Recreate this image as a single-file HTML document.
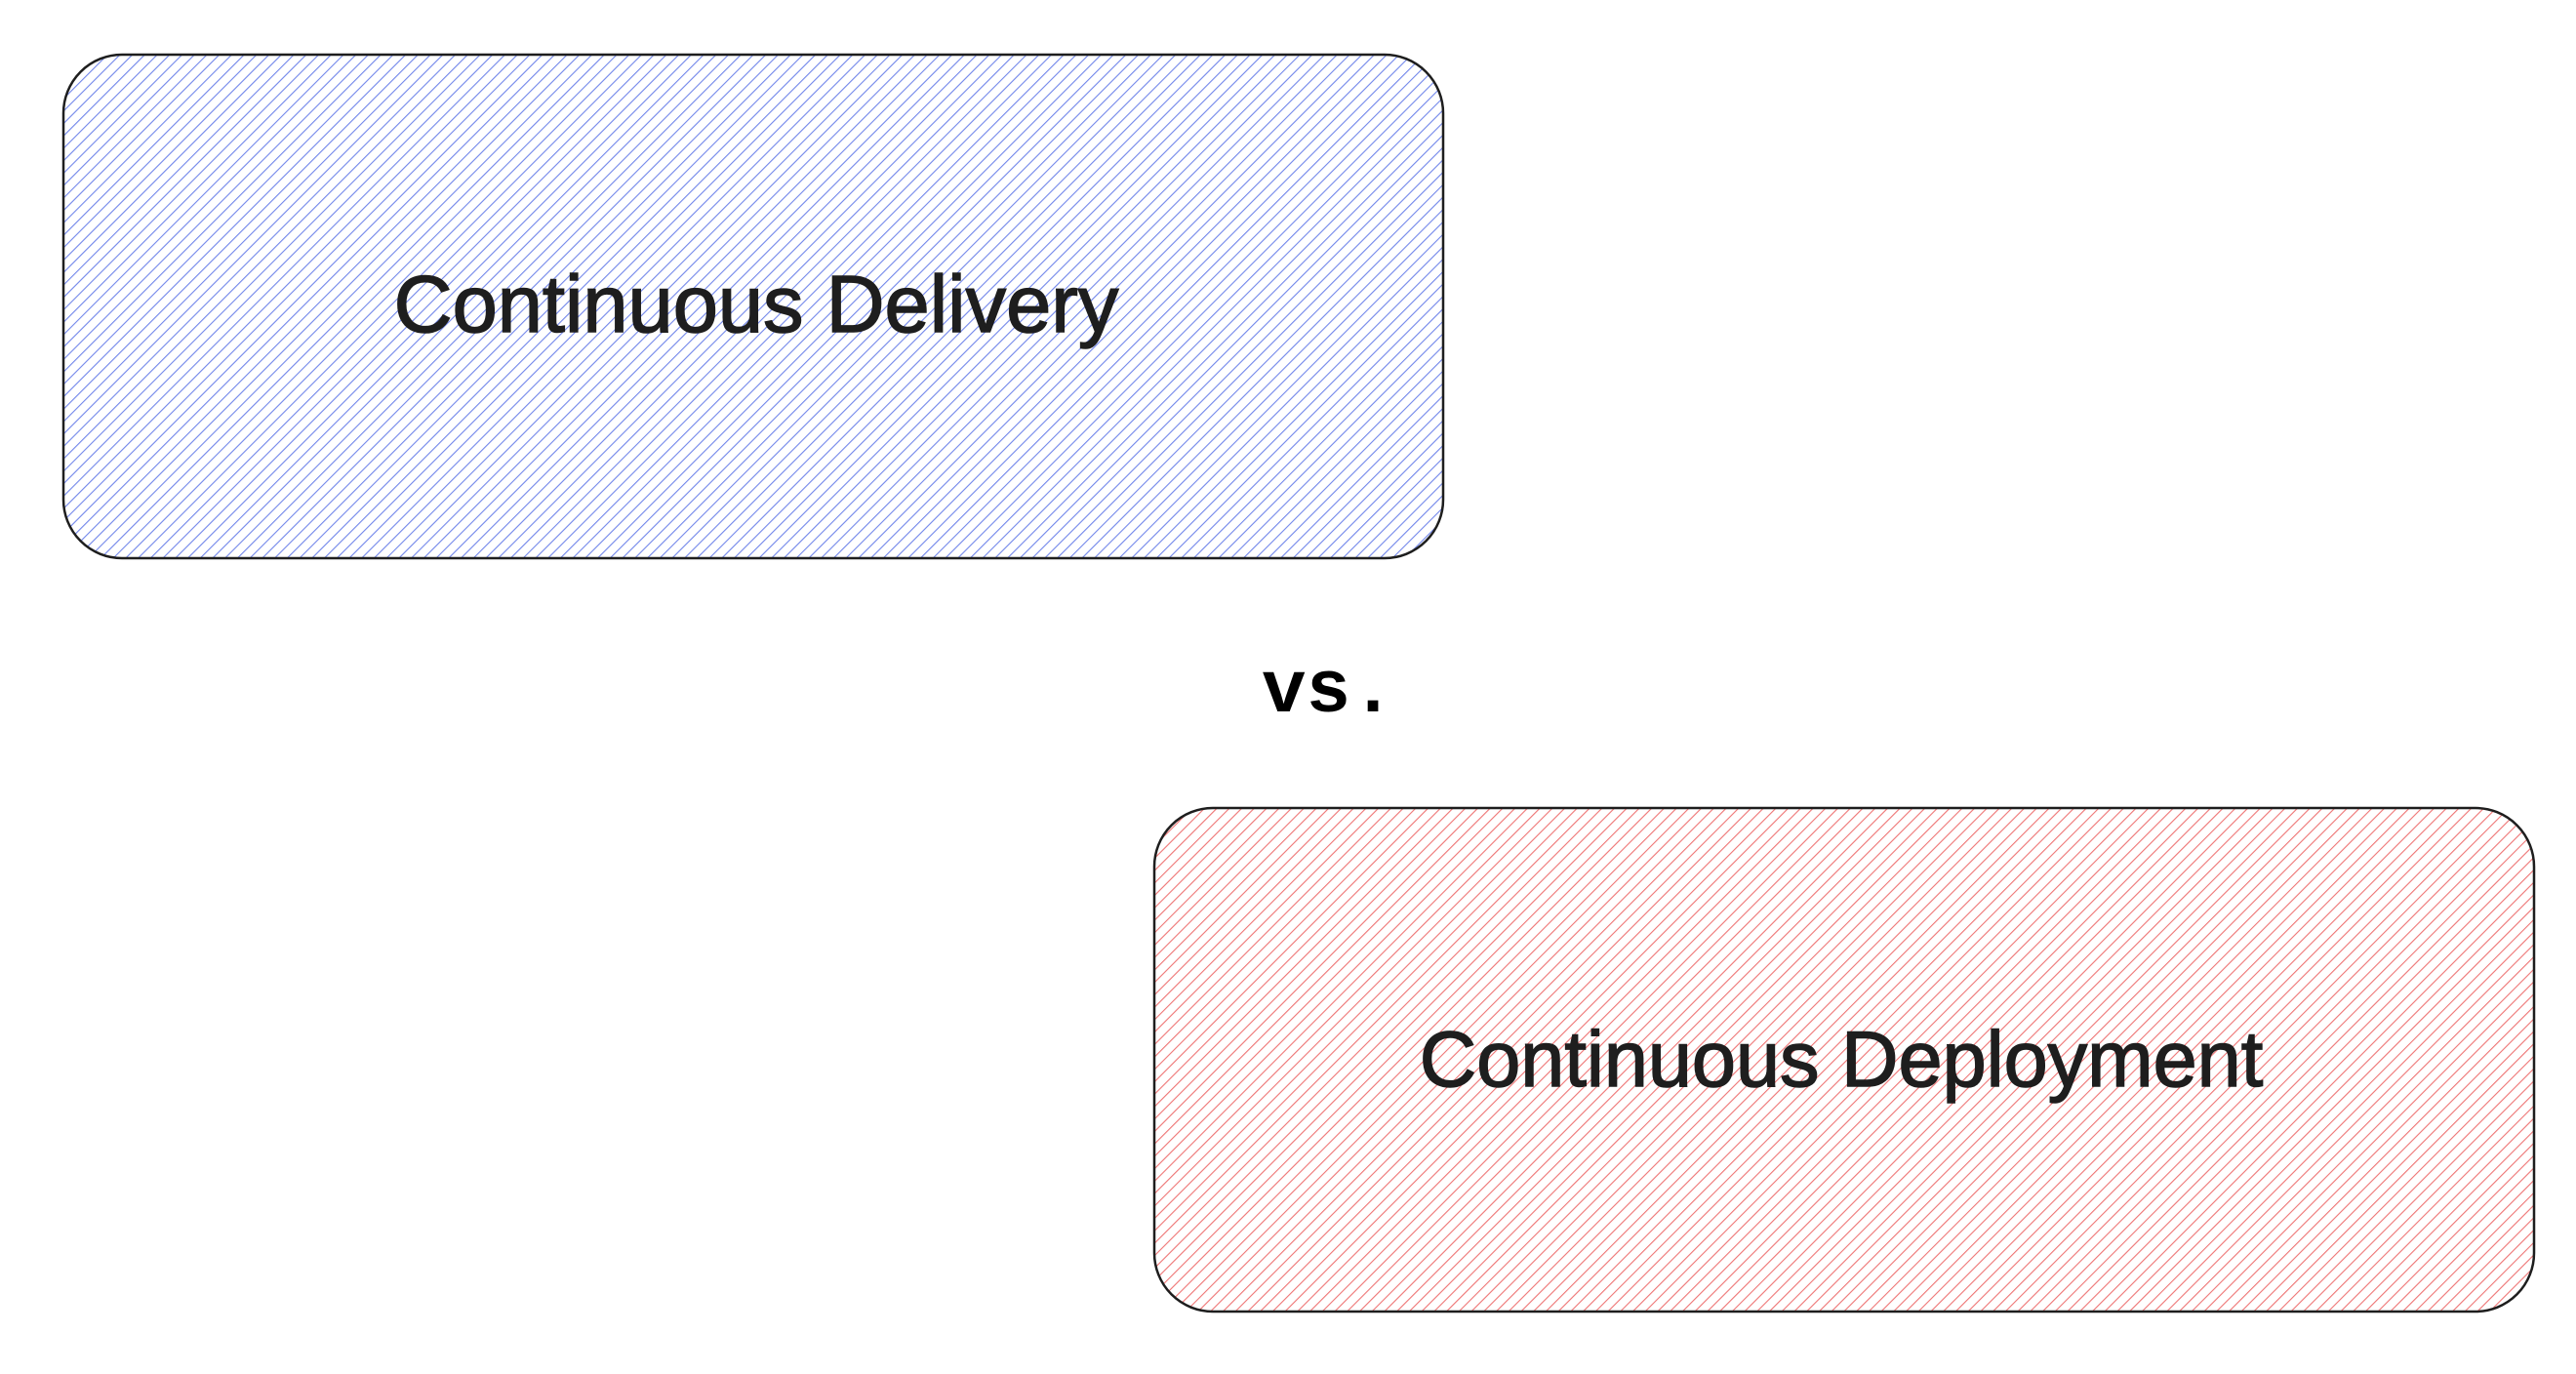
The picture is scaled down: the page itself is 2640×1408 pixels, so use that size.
<!DOCTYPE html>
<html><head><style>body{margin:0;background:#fff}svg{display:block}</style></head>
<body>
<svg width="2640" height="1408" viewBox="0 0 2640 1408" xmlns="http://www.w3.org/2000/svg">
<defs>
<pattern id="hb" patternUnits="userSpaceOnUse" width="9" height="9" patternTransform="rotate(45)">
<line x1="0" y1="0" x2="0" y2="9" stroke="#7186ea" stroke-width="2.2"/>
</pattern>
<pattern id="hr" patternUnits="userSpaceOnUse" width="9" height="9" patternTransform="rotate(45)">
<line x1="0" y1="0" x2="0" y2="9" stroke="#ee7474" stroke-width="2.2"/>
</pattern>
</defs>
<rect x="65" y="56" width="1414" height="516" rx="60" fill="url(#hb)" stroke="#1e1e1e" stroke-width="2.5"/>
<rect x="1183" y="828" width="1414" height="516" rx="60" fill="url(#hr)" stroke="#1e1e1e" stroke-width="2.5"/>
<text x="775" y="340" text-anchor="middle" font-family="Liberation Sans, sans-serif" font-size="83" fill="#1e1e1e" stroke="#1e1e1e" stroke-width="1.5">Continuous Delivery</text>
<text x="1887" y="1113" text-anchor="middle" font-family="Liberation Sans, sans-serif" font-size="81" fill="#1e1e1e" stroke="#1e1e1e" stroke-width="1.5">Continuous Deployment</text>
<text x="1293" y="729" font-family="Liberation Mono, monospace" font-weight="bold" font-size="76" fill="#000">vs.</text>
</svg>
</body></html>
